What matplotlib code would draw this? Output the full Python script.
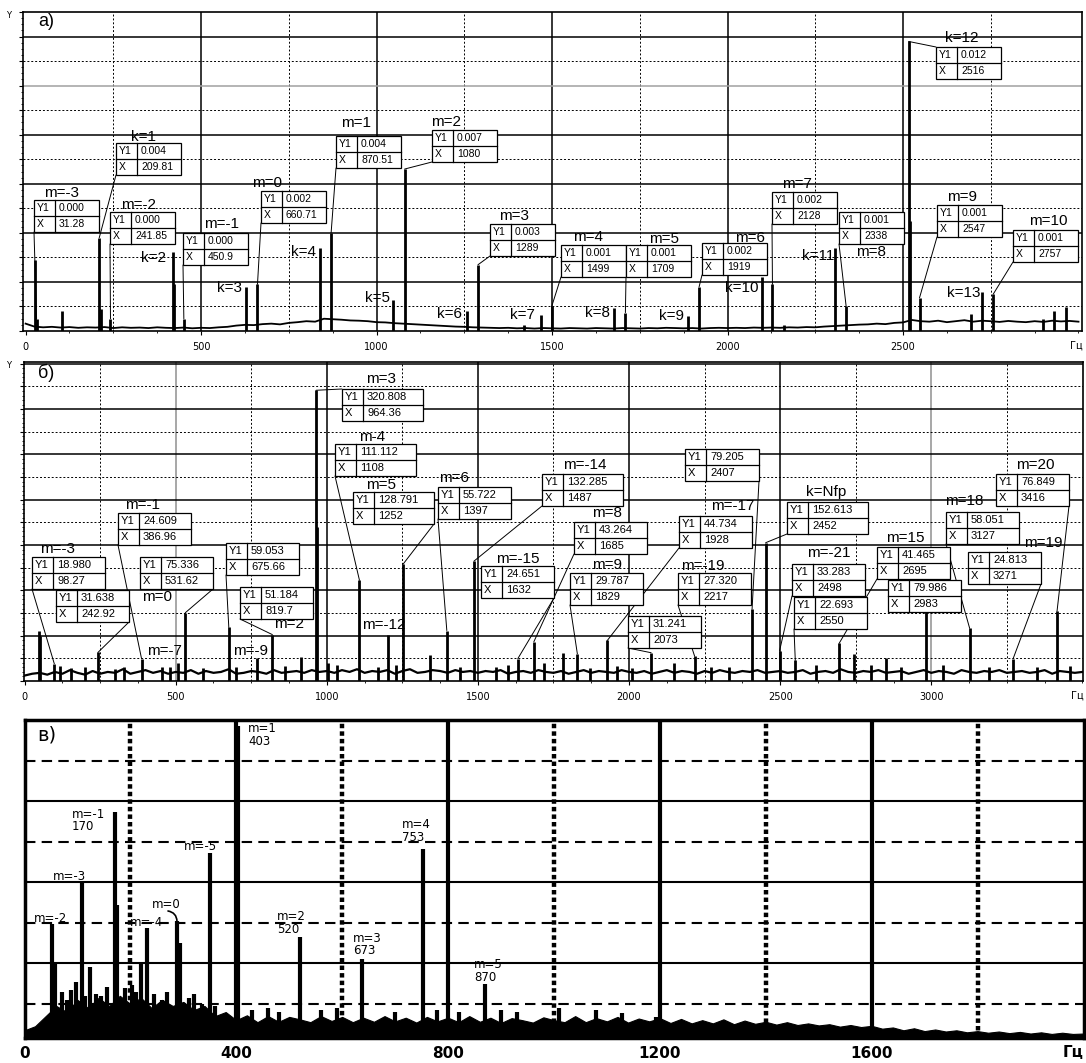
import numpy as np
import matplotlib.pyplot as plt
from matplotlib.patches import Rectangle
from matplotlib.lines import Line2D

W, H = 1086, 1063

# ---------------- а) спектр, Y в единицах 0.001 ----------------
a_freq = [27, 31.28, 104, 209.81, 214, 241.85, 419, 422, 450.9, 629, 660.71,
          839, 870.51, 1048, 1080, 1258, 1289, 1420, 1468, 1499, 1677, 1709,
          1887, 1919, 2097, 2128, 2160, 2306, 2338, 2516, 2521, 2547, 2695,
          2726, 2757, 2900, 2930, 2965]
a_amp = [2.9, 0.5, 0.8, 3.8, 0.9, 0.5, 3.2, 1.9, 0.5, 1.8, 1.9,
         3.4, 4.0, 1.26, 6.6, 0.8, 2.7, 0.25, 0.65, 1.0, 0.93, 0.75,
         0.6, 1.8, 2.2, 1.9, 0.25, 3.4, 1.0, 11.8, 4.5, 1.35, 0.7,
         1.6, 1.5, 0.5, 0.8, 0.98]
a_floor = [0.30, 0.18, 0.15, 0.17, 0.14, 0.16, 0.13, 0.15, 0.14,
           0.16, 0.12, 0.15, 0.13, 0.14, 0.12, 0.15, 0.13, 0.12, 0.14, 0.11, 0.13, 0.12, 0.15, 0.17,
           0.22, 0.25, 0.24, 0.28, 0.30, 0.27, 0.33, 0.36, 0.40, 0.38, 0.50, 0.48, 0.46, 0.43, 0.42,
           0.40, 0.36, 0.35, 0.32, 0.30, 0.28,
           0.26, 0.24, 0.22, 0.20, 0.18, 0.17, 0.15, 0.14, 0.13, 0.12, 0.13, 0.11, 0.12, 0.10, 0.12,
           0.11, 0.10, 0.12, 0.11, 0.10, 0.12, 0.11, 0.10, 0.12, 0.11, 0.10, 0.12, 0.11, 0.13, 0.12,
           0.11, 0.12, 0.10, 0.12, 0.13, 0.12, 0.13, 0.12, 0.14, 0.13, 0.14, 0.13, 0.15, 0.14, 0.16,
           0.15,
           0.18, 0.20, 0.22, 0.24, 0.26, 0.27, 0.30, 0.28, 0.33, 0.35, 0.45, 0.40, 0.38, 0.42, 0.36,
           0.40, 0.44, 0.38, 0.42, 0.40, 0.37, 0.41, 0.38, 0.36, 0.40, 0.37, 0.42, 0.39, 0.41, 0.38]
a_floor_f = np.arange(0, 3001, 25)

a_names = ["m=-3", "k=1", "m=-2", "m=-1", "m=0", "m=1", "m=2", "m=3",
           "m=4", "m=5", "m=6", "m=7", "m=8", "k=12", "m=9", "m=10"]
a_y1 = ["0.000", "0.004", "0.000", "0.000", "0.002", "0.004", "0.007", "0.003",
        "0.001", "0.001", "0.002", "0.002", "0.001", "0.012", "0.001", "0.001"]
a_x = ["31.28", "209.81", "241.85", "450.9", "660.71", "870.51", "1080", "1289",
       "1499", "1709", "1919", "2128", "2338", "2516", "2547", "2757"]
a_k = ["k=2", "k=3", "k=4", "k=5", "k=6", "k=7", "k=8", "k=9", "k=10", "k=11", "k=13"]

# ---------------- б) спектр ----------------
b_freq = [46, 50, 98.27, 116, 155, 200, 242.92, 300, 330, 386.96,
          455, 480, 509, 531.62, 590, 675.66, 700, 769, 819.7, 860,
          913, 964.36, 968, 1005, 1035, 1108, 1170, 1201, 1230, 1252,
          1340, 1397, 1440, 1487, 1560, 1600, 1632, 1685, 1720, 1780,
          1829, 1870, 1928, 1960, 2010, 2073, 2150, 2217, 2270, 2330,
          2407, 2452, 2498, 2550, 2620, 2695, 2743, 2800, 2850, 2900,
          2983, 3040, 3127, 3190, 3271, 3350, 3416, 3460]
b_amp = [55, 50, 19, 17, 14, 15, 31.6, 13, 15, 24.6,
         15, 16, 20, 75.3, 14, 59.1, 15, 25, 51.2, 17,
         26, 320.8, 170, 20, 18, 111.1, 16, 51, 18, 128.8,
         29, 55.7, 16, 132.3, 15, 18, 24.7, 43.3, 20, 31,
         29.8, 14, 44.7, 17, 14, 31.2, 20, 27.3, 16, 15,
         79.2, 152.6, 33.3, 22.7, 18, 41.5, 30, 18, 25, 16,
         80.0, 18, 58.1, 16, 24.8, 15, 76.8, 17]
b_floor = [6, 8, 9, 7, 10, 8, 12, 9, 7, 11, 8, 10, 9, 13, 8, 10, 12, 9, 11, 8,
           10, 9, 12, 8, 11, 9, 10, 13, 8, 9, 11, 10, 8, 12, 9, 10, 11, 9, 12, 10,
           11, 9, 12, 10, 13, 9, 11, 10, 12, 8, 11, 13, 9, 10, 12, 11, 9, 12, 10, 11,
           9, 11, 10, 12, 8, 10, 11, 9, 12, 10, 9, 11, 8, 10, 12, 9, 11, 10, 9, 12,
           10, 9, 11, 8, 10, 12, 9, 11, 10, 8, 11, 9, 12, 10, 9, 11, 10, 12, 9, 10,
           11, 9, 10, 12, 8, 10, 11, 9, 13, 10, 9, 11, 10, 12, 9, 10, 11, 8, 10, 12,
           9, 11, 10, 8, 12, 10, 9, 11, 10, 12, 9, 10, 11, 9, 10, 12, 8, 11, 10, 9, 10]
b_floor_f = np.arange(0, 3501, 25)

b_names = ["m=-3", "", "m=-1", "m=0", "", "m=2", "m=3", "m-4", "m=5", "m=6",
           "m=-14", "m=-15", "m=8", "m=9", "m=-17", "", "", "m=-19", "k=Nfp",
           "m=-21", "", "m=15", "", "m=18", "m=19", "m=20"]
b_y1 = ["18.980", "31.638", "24.609", "75.336", "59.053", "51.184", "320.808",
        "111.112", "128.791", "55.722", "132.285", "24.651", "43.264", "29.787",
        "44.734", "79.205", "31.241", "27.320", "152.613", "33.283", "22.693",
        "41.465", "79.986", "58.051", "24.813", "76.849"]
b_x = ["98.27", "242.92", "386.96", "531.62", "675.66", "819.7", "964.36",
       "1108", "1252", "1397", "1487", "1632", "1685", "1829", "1928", "2407",
       "2073", "2217", "2452", "2498", "2550", "2695", "2983", "3127", "3271", "3416"]
b_free = ["m=-7", "m=-9", "m=-12"]

# ---------------- в) спектр ----------------
c_freq = [52, 57, 70, 80, 88, 98, 108, 115, 123, 135,
          145, 155, 170, 175, 190, 203, 210, 220, 231.6, 245,
          260, 270, 288, 294, 310, 320, 335, 350.7, 360, 403,
          430, 460, 480, 520, 560, 590, 637, 700, 753, 780,
          820, 870, 900, 930, 1010, 1080, 1129, 1192]
c_amp = [2.96, 2.0, 1.3, 1.1, 1.35, 1.55, 3.99, 1.2, 1.92, 1.25,
         1.2, 1.42, 5.72, 3.43, 1.4, 1.47, 1.3, 2.0, 2.87, 1.25,
         1.1, 1.3, 3.04, 2.5, 1.15, 1.25, 1.0, 4.73, 0.95, 7.86,
         0.85, 0.9, 0.8, 2.65, 0.85, 0.9, 2.1, 0.8, 4.81, 0.85,
         0.8, 1.5, 0.85, 0.8, 0.9, 0.85, 0.78, 0.69]
c_floor = [0.35, 0.45, 0.7, 0.95, 0.8, 1.1, 0.9, 1.15, 0.95, 1.2, 1.0, 1.15, 0.9, 1.1, 0.95, 1.05, 0.85, 0.95, 0.7, 0.8,
           0.6, 0.72, 0.55, 0.7, 0.56, 0.68, 0.62, 0.55, 0.7, 0.58, 0.68, 0.55, 0.66, 0.56, 0.7, 0.57, 0.66, 0.54, 0.68, 0.57,
           0.66, 0.55, 0.7, 0.56, 0.66, 0.53, 0.65, 0.6, 0.54, 0.67, 0.6, 0.55, 0.7, 0.55, 0.65, 0.57, 0.68, 0.54, 0.64, 0.57,
           0.65, 0.53, 0.63, 0.52, 0.6, 0.52, 0.62, 0.5, 0.59, 0.51, 0.56, 0.49, 0.55, 0.48, 0.52, 0.47, 0.5, 0.44, 0.48, 0.43,
           0.46, 0.39, 0.42, 0.35, 0.4, 0.33, 0.37, 0.32, 0.35, 0.3, 0.33, 0.29, 0.32, 0.28, 0.31, 0.27, 0.3, 0.26, 0.29, 0.26, 0.27]
c_floor_f = np.arange(0, 2001, 20)
c_lab1 = ["m=1", "m=-1", "m=-5", "m=-3", "m=-2", "m=-4", "m=0", "m=2", "m=3", "m=4", "m=5"]
c_lab2 = ["403", "170", "", "", "", "", "", "520", "673", "753", "870"]

# ---------------- раскладка (пиксели картинки) ----------------
a_box_pos = [(34, 200, 62, 193, "bl"), (116, 143, 143, 137, "bl"), (110, 212, 139, 205, "bl"),
             (183, 233, 222, 224, "bl"), (261, 191, 267, 183, "bl"), (336, 136, 356, 123, "bl"),
             (432, 130, 446, 122, "bl"), (490, 224, 514, 216, "bl"), (561, 245, 588, 237, "bl"),
             (626, 245, 664, 239, "bl"), (702, 243, 750, 238, "bl"), (772, 192, 797, 184, "bl"),
             (839, 212, 871, 252, "bl"), (936, 47, 962, 38, "tl"), (937, 205, 962, 197, "bl"),
             (1013, 230, 1048, 221, "bl")]
a_k_pos = [(153, 258), (229, 288), (303, 252), (378, 298), (449, 314), (522, 315),
           (598, 313), (672, 316), (742, 288), (818, 256), (964, 293)]

b_box_pos = [(32, 557, 73, 58, 549, "bl"), (56, 590, 73, 0, 0, "br"), (118, 513, 73, 143, 505, "bl"),
             (140, 557, 73, 157, 597, "br"), (226, 543, 73, 0, 0, "bl"), (240, 587, 73, 289, 624, "bl"),
             (342, 389, 81, 381, 379, "tl"), (335, 444, 81, 372, 437, "bl"), (353, 492, 81, 381, 485, "br"),
             (438, 487, 73, 454, 478, "bl"), (542, 474, 81, 585, 465, "bl"), (481, 566, 73, 518, 559, "br"),
             (574, 522, 73, 607, 513, "bl"), (570, 573, 73, 607, 565, "bl"), (679, 516, 73, 733, 506, "bl"),
             (685, 449, 74, 0, 0, "br"), (628, 616, 73, 0, 0, "bl"), (678, 573, 73, 703, 566, "bl"),
             (787, 502, 81, 826, 492, "bl"), (792, 564, 73, 829, 553, "bl"), (794, 597, 73, 0, 0, "bl"),
             (877, 547, 73, 905, 538, "bl"), (888, 580, 73, 0, 0, ""), (946, 512, 73, 964, 501, "bl"),
             (968, 552, 73, 1043, 543, "br"), (996, 474, 73, 1035, 465, "br")]
b_free_pos = [(164, 651), (251, 651), (384, 625)]

c_lab_pos = [(248, 729), (72, 814), (184, 847), (53, 877), (34, 918), (130, 922),
             (152, 904), (277, 917), (353, 938), (402, 825), (474, 965)]

SANS = ["Liberation Sans", "DejaVu Sans"]

fig = plt.figure(figsize=(W / 100, H / 100), dpi=100)


def fx(x):
    return x / W


def fy(y):
    return 1 - y / H


def axes_at(left, top, right, bottom):
    return fig.add_axes([fx(left), fy(bottom), (right - left) / W, (bottom - top) / H])


def value_box(ax, left, top, width, y1, xv, target, corner, fs=7.5):
    h, c0 = 32, 21
    fig.add_artist(Rectangle((fx(left), fy(top + h)), width / W, h / H, transform=fig.transFigure,
                             fc="white", ec="black", lw=0.9, zorder=4))
    fig.add_artist(Line2D([fx(left), fx(left + width)], [fy(top + h / 2)] * 2,
                          transform=fig.transFigure, color="black", lw=0.9, zorder=4.1))
    fig.add_artist(Line2D([fx(left + c0)] * 2, [fy(top), fy(top + h)],
                          transform=fig.transFigure, color="black", lw=0.9, zorder=4.1))
    fig.text(fx(left + 3), fy(top + h / 4), "Y1", va="center", fontsize=fs, family=SANS, zorder=5)
    fig.text(fx(left + 3), fy(top + 3 * h / 4), "X", va="center", fontsize=fs, family=SANS, zorder=5)
    fig.text(fx(left + c0 + 4), fy(top + h / 4), y1, va="center", fontsize=fs, family=SANS, zorder=5)
    fig.text(fx(left + c0 + 4), fy(top + 3 * h / 4), xv, va="center", fontsize=fs, family=SANS, zorder=5)
    if corner:
        cx = left + width if corner == "br" else left
        cy = top if corner == "tl" else top + h
        ax.annotate("", xy=target, xycoords="data", xytext=(fx(cx), fy(cy)),
                    textcoords="figure fraction", annotation_clip=False,
                    arrowprops=dict(arrowstyle="-", color="black", lw=0.7, shrinkA=0, shrinkB=0))


def peak_of(freqs, amps, xv):
    i = int(np.argmin(np.abs(np.array(freqs) - float(xv))))
    return freqs[i], amps[i]


# ======================= а) =======================
ax = axes_at(23, 12, 1082, 331)
ax.set_xlim(-7.4, 3010)
ax.set_ylim(0, 13)
for v in range(500, 3000, 500):
    ax.axvline(v, color="black", lw=1.1, zorder=0.5)
for v in range(250, 3000, 500):
    ax.axvline(v, color="black", lw=0.7, ls=(0, (2, 2)), zorder=0.5)
for v in range(1, 13):
    if v % 2:
        ax.axhline(v, color="black", lw=0.7, ls=(0, (2, 2)), zorder=0.5)
    else:
        ax.axhline(v, color="#a0a0a0" if v == 10 else "black", lw=1.1, zorder=0.5)
ax.plot(a_floor_f, a_floor, color="black", lw=1.3)
ax.vlines(a_freq, 0, a_amp, color="black", lw=2)
ax.set_xticks(range(0, 3000, 500))
ax.set_xticks(range(0, 3001, 125), minor=True)
ax.set_yticks(range(0, 14))
ax.set_yticks(np.arange(0, 13, 0.25), minor=True)
ax.set_yticklabels([])
ax.tick_params(axis="x", labelsize=7, length=3, pad=5)
ax.tick_params(axis="y", length=3)
ax.tick_params(which="minor", length=1.5)
for s in ax.spines.values():
    s.set_linewidth(1.2)
ax.text(0.995, -0.045, "Гц", transform=ax.transAxes, fontsize=7, ha="center", va="center")
for i, (l, t, nx, ny, corner) in enumerate(a_box_pos):
    fig.text(fx(nx), fy(ny), a_names[i], ha="center", va="center", fontsize=11, family=SANS, zorder=3)
    value_box(ax, l, t, 65, a_y1[i], a_x[i], peak_of(a_freq, a_amp, a_x[i]), corner)
for name, (nx, ny) in zip(a_k, a_k_pos):
    fig.text(fx(nx), fy(ny), name, ha="center", va="center", fontsize=11, family=SANS, zorder=3)
fig.text(fx(46), fy(22), "a)", ha="center", va="center", fontsize=13, family=SANS)
fig.text(fx(9), fy(15), "Y", ha="center", va="center", fontsize=6)

# ======================= б) =======================
ax = axes_at(24, 362, 1083, 681)
ax.set_xlim(-2, 3502)
ax.set_ylim(0, 352)
for v in range(500, 3500, 500):
    ax.axvline(v, color="#909090" if v in (500, 3000) else "black", lw=1.1, zorder=0.5)
for v in range(250, 3500, 500):
    ax.axvline(v, color="black", lw=0.7, ls=(0, (2, 2)), zorder=0.5)
for v in range(25, 351, 25):
    if v % 50:
        ax.axhline(v, color="black", lw=0.7, ls=(0, (2, 2)), zorder=0.5)
    else:
        ax.axhline(v, color="black", lw=1.1, zorder=0.5)
ax.plot(b_floor_f, b_floor, color="black", lw=1.6)
ax.vlines(b_freq, 0, b_amp, color="black", lw=2)
ax.set_xticks(range(0, 3500, 500))
ax.set_xticks(range(0, 3501, 125), minor=True)
ax.set_yticks(range(0, 351, 25))
ax.set_yticks(range(0, 351, 5), minor=True)
ax.set_yticklabels([])
ax.tick_params(axis="x", labelsize=7, length=3, pad=5)
ax.tick_params(axis="y", length=3)
ax.tick_params(which="minor", length=1.5)
for s in ax.spines.values():
    s.set_linewidth(1.2)
ax.text(0.995, -0.045, "Гц", transform=ax.transAxes, fontsize=7, ha="center", va="center")
for i, (l, t, w, nx, ny, corner) in enumerate(b_box_pos):
    if b_names[i]:
        fig.text(fx(nx), fy(ny), b_names[i], ha="center", va="center", fontsize=11, family=SANS, zorder=3)
    value_box(ax, l, t, w, b_y1[i], b_x[i], peak_of(b_freq, b_amp, b_x[i]), corner, fs=8)
for name, (nx, ny) in zip(b_free, b_free_pos):
    fig.text(fx(nx), fy(ny), name, ha="center", va="center", fontsize=11, family=SANS, zorder=3)
fig.text(fx(46), fy(373), "б)", ha="center", va="center", fontsize=13, family=SANS)
fig.text(fx(9), fy(366), "Y", ha="center", va="center", fontsize=6)

# ======================= в) =======================
ax = axes_at(24.5, 720, 1084, 1038)
ax.set_xlim(0, 2001)
ax.set_ylim(0.16, 8)
for v in range(400, 2000, 400):
    ax.axvline(v, color="black", lw=3, zorder=0.5)
for v in range(200, 2000, 400):
    ax.axvline(v, color="black", lw=3.2, ls=(0, (1, 0.7)), zorder=0.5)
for v in range(1, 8):
    if v % 2:
        ax.axhline(v, color="black", lw=1.5, ls=(0, (5, 3)), zorder=0.5)
    else:
        ax.axhline(v, color="black", lw=1.5, zorder=0.5)
ax.fill_between(c_floor_f, 0.16, c_floor, color="black", lw=0.8, edgecolor="black")
ax.vlines(c_freq, 0.16, c_amp, color="black", lw=3)
ax.set_xticks(range(0, 2000, 400))
ax.set_yticks([])
ax.tick_params(axis="x", length=0, pad=6)
for lab in ax.get_xticklabels():
    lab.set_fontsize(11)
    lab.set_fontweight("bold")
for s in ax.spines.values():
    s.set_linewidth(2.5)
ax.text(0.99, -0.045, "Гц", transform=ax.transAxes, fontsize=11, fontweight="bold",
        ha="center", va="center")
for i, (lx, ly) in enumerate(c_lab_pos):
    fig.text(fx(lx), fy(ly), c_lab1[i], va="center", fontsize=8.5)
    if c_lab2[i]:
        fig.text(fx(lx), fy(ly + 12.5), c_lab2[i], va="center", fontsize=8.5)
ax.annotate("", xy=(288, 3.04), xytext=(fx(168), fy(911)), textcoords="figure fraction",
            arrowprops=dict(arrowstyle="-", color="black", lw=1.2, shrinkA=0, shrinkB=0,
                            connectionstyle="arc3,rad=-0.4"))
fig.text(fx(47), fy(735), "в)", ha="center", va="center", fontsize=14)

fig.savefig("out.png", dpi=100)
